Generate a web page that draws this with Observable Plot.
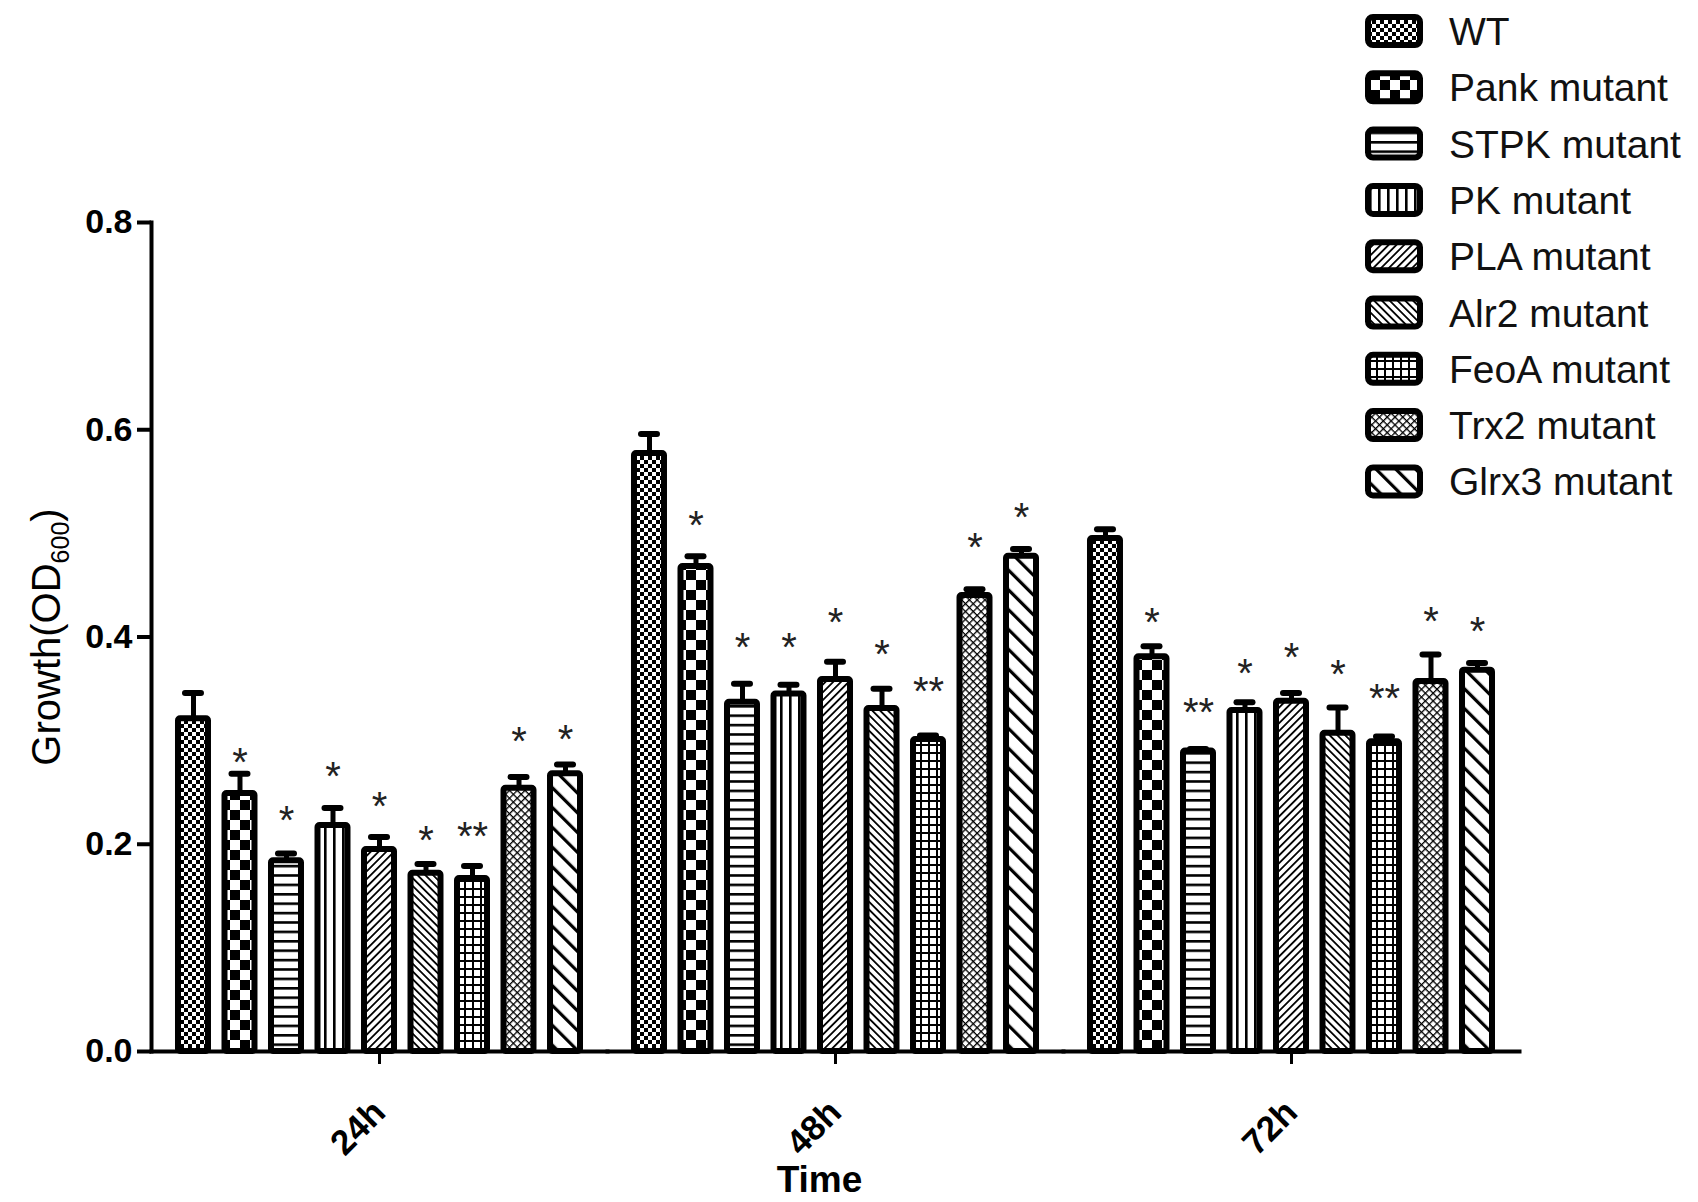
<!DOCTYPE html>
<html>
<head>
<meta charset="utf-8">
<script src="https://cdn.jsdelivr.net/npm/d3@7"></script>
<script src="https://cdn.jsdelivr.net/npm/@observablehq/plot@0.6"></script>
<style>
  body { margin: 0; background: #fff; font-family: "Liberation Sans", Arial, sans-serif; }
  #chart { position: absolute; left: 0; top: 0; }
  #legend { position: absolute; left: 1360px; top: 0; }
  g[aria-label="fx-axis label"], g[aria-label="fx-axis label"] text { font-size: 37px; font-weight: bold; }
  g[aria-label="y-axis label"], g[aria-label="y-axis label"] text { font-size: 40px; font-weight: normal; }
</style>
</head>
<body>
<svg id="defs" width="0" height="0" style="position:absolute;left:0;top:0">
  <defs>
    <pattern id="pat0" patternUnits="userSpaceOnUse" width="8" height="8">
      <rect width="8" height="8" fill="#fff"/>
      <rect x="0" y="0" width="4" height="4" fill="#000"/>
      <rect x="4" y="4" width="4" height="4" fill="#000"/>
    </pattern>
    <pattern id="pat1" patternUnits="userSpaceOnUse" width="20" height="20">
      <rect width="20" height="20" fill="#fff"/>
      <rect x="0" y="0" width="10" height="10" fill="#000"/>
      <rect x="10" y="10" width="10" height="10" fill="#000"/>
    </pattern>
    <pattern id="pat2" patternUnits="userSpaceOnUse" width="10" height="9.4">
      <rect width="10" height="9.4" fill="#fff"/>
      <rect x="0" y="0" width="10" height="2.6" fill="#000"/>
    </pattern>
    <pattern id="pat3" patternUnits="userSpaceOnUse" width="9" height="10">
      <rect width="9" height="10" fill="#fff"/>
      <rect x="0" y="0" width="2.6" height="10" fill="#000"/>
    </pattern>
    <pattern id="pat4" patternUnits="userSpaceOnUse" width="5.5" height="10" patternTransform="rotate(45)">
      <rect width="5.5" height="10" fill="#fff"/>
      <rect x="0" y="0" width="1.8" height="10" fill="#000"/>
    </pattern>
    <pattern id="pat5" patternUnits="userSpaceOnUse" width="5.5" height="10" patternTransform="rotate(-45)">
      <rect width="5.5" height="10" fill="#fff"/>
      <rect x="0" y="0" width="1.8" height="10" fill="#000"/>
    </pattern>
    <pattern id="pat6" patternUnits="userSpaceOnUse" width="8" height="8">
      <rect width="8" height="8" fill="#fff"/>
      <rect x="0" y="0" width="8" height="2" fill="#000"/>
      <rect x="0" y="0" width="2" height="8" fill="#000"/>
    </pattern>
    <pattern id="pat7" patternUnits="userSpaceOnUse" width="5.5" height="5.5" patternTransform="rotate(45)">
      <rect width="5.5" height="5.5" fill="#fff"/>
      <rect x="0" y="0" width="1.3" height="5.5" fill="#000"/>
      <rect x="0" y="0" width="5.5" height="1.3" fill="#000"/>
    </pattern>
    <pattern id="pat8" patternUnits="userSpaceOnUse" width="14" height="10" patternTransform="rotate(-45)">
      <rect width="14" height="10" fill="#fff"/>
      <rect x="0" y="0" width="3.2" height="10" fill="#000"/>
    </pattern>
  </defs>
</svg>
<div id="chart"></div>
<svg id="legend" width="338" height="510"></svg>
<script>
const times = ["24h", "48h", "72h"];
const strains = ["WT", "Pank mutant", "STPK mutant", "PK mutant", "PLA mutant",
                 "Alr2 mutant", "FeoA mutant", "Trx2 mutant", "Glrx3 mutant"];
const yTicks = [0, 0.2, 0.4, 0.6, 0.8];

const growth24h = [0.321, 0.249, 0.184, 0.218, 0.195, 0.172, 0.167, 0.254, 0.268];
const sem24h    = [0.025, 0.019, 0.007, 0.017, 0.012, 0.009, 0.012, 0.011, 0.009];
const growth48h = [0.577, 0.468, 0.337, 0.345, 0.359, 0.331, 0.301, 0.440, 0.478];
const sem48h    = [0.019, 0.010, 0.018, 0.009, 0.017, 0.019, 0.004, 0.006, 0.007];
const growth72h = [0.495, 0.381, 0.290, 0.329, 0.338, 0.307, 0.299, 0.357, 0.368];
const sem72h    = [0.009, 0.010, 0.002, 0.008, 0.008, 0.025, 0.005, 0.026, 0.007];

const sig24h = ["", "*", "*", "*", "*", "*", "**", "*", "*"];
const sig48h = ["", "*", "*", "*", "*", "*", "**", "*", "*"];
const sig72h = ["", "*", "**", "*", "*", "*", "**", "*", "*"];
const sigLevel24h = [null, 0.288, 0.232, 0.274, 0.245, 0.213, 0.216, 0.308, 0.310];
const sigLevel48h = [null, 0.517, 0.399, 0.399, 0.423, 0.392, 0.356, 0.495, 0.524];
const sigLevel72h = [null, 0.423, 0.336, 0.374, 0.389, 0.373, 0.350, 0.424, 0.414];

const series = {
  "24h": [growth24h, sem24h, sig24h, sigLevel24h],
  "48h": [growth48h, sem48h, sig48h, sigLevel48h],
  "72h": [growth72h, sem72h, sig72h, sigLevel72h]
};
const data = [];
for (const t of times) {
  const [g, s, sig, lvl] = series[t];
  strains.forEach((st, i) => data.push({time: t, strain: st, value: g[i], top: g[i] + s[i], sig: sig[i], level: lvl[i]}));
}
const starData = data.filter(d => d.sig);
const patterns = strains.map((_, i) => `url(#pat${i})`);

const font = '"Liberation Sans", Arial, sans-serif';

const chart = Plot.plot({
  width: 1698,
  height: 1202,
  marginLeft: 151,
  marginRight: 179,
  marginTop: 222,
  marginBottom: 151,
  style: {fontFamily: font, background: "#fff", color: "#000"},
  fx: {domain: times, padding: 0, round: false},
  x: {domain: strains, paddingInner: 0.226, paddingOuter: 0.516, round: false, axis: null},
  y: {domain: [0, 0.8]},
  color: {domain: strains, range: patterns},
  marks: [
    Plot.barY(data, {fx: "time", x: "strain", y: "value", fill: "strain",
      stroke: "#000", strokeWidth: 6, insetLeft: 3, insetRight: 3, rx: 2, strokeLinejoin: "round"}),
    Plot.ruleX(data, {fx: "time", x: "strain", y1: "value", y2: "top", stroke: "#000", strokeWidth: 5}),
    Plot.tickY(data, {fx: "time", x: "strain", y: "top", stroke: "#000", strokeWidth: 6,
      insetLeft: 10, insetRight: 10, strokeLinecap: "round"}),
    Plot.text(starData, {fx: "time", x: "strain", y: "level", text: "sig", fontSize: 40,
      fill: "#222", dy: 10}),
    Plot.frame({anchor: "left", facetAnchor: "left", stroke: "#000", strokeWidth: 4}),
    Plot.frame({anchor: "bottom", stroke: "#000", strokeWidth: 4}),
    Plot.axisY({ticks: yTicks, tickFormat: d3.format(".1f"), tickSize: 14, tickPadding: 5,
      strokeWidth: 4, fontSize: 34, fontWeight: "bold", label: "Growth(OD600)",
      labelAnchor: "center", labelOffset: 120, labelArrow: false}),
    Plot.axisFx({anchor: "bottom", tickSize: 13, tickPadding: 42, strokeWidth: 3, tickRotate: -45,
      fontSize: 35, fontWeight: "bold", label: "Time", labelAnchor: "center", labelOffset: 140, labelArrow: false})
  ]
});
document.getElementById("chart").appendChild(chart);

// subscript in y label
d3.select(chart).selectAll('g[aria-label="y-axis label"] text').each(function() {
  const t = d3.select(this);
  if (!t.text().includes("Growth")) return;
  t.text("");
  t.append("tspan").text("Growth(OD");
  t.append("tspan").attr("dy", 9).attr("font-size", 25).text("600");
  t.append("tspan").attr("dy", -9).text(")");
});
// nudge the x-axis title slightly left, as in the original figure
d3.select(chart).selectAll('g[aria-label="fx-axis label"] text').each(function() {
  const t = d3.select(this);
  t.attr("dx", (parseFloat(t.attr("dx")) || 0) - 16);
});

// legend
const lg = d3.select("#legend");
strains.forEach((s, i) => {
  const cy = 31 + 56.3 * i;
  lg.append("rect").attr("x", 8).attr("y", cy - 14).attr("width", 52).attr("height", 28)
    .attr("rx", 5).attr("fill", patterns[i]).attr("stroke", "#000").attr("stroke-width", 6);
  lg.append("text").attr("x", 89).attr("y", cy + 14).attr("font-size", 39)
    .attr("font-family", font).attr("fill", "#111").text(s);
});
</script>
</body>
</html>
